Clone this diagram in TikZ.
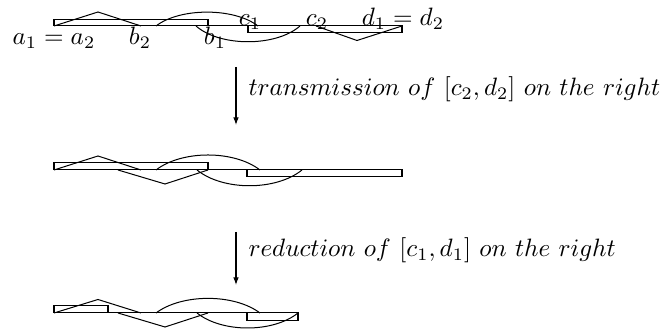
\documentclass[tikz,border=0pt]{standalone}
\usetikzlibrary{arrows.meta}
\begin{document}
\begin{tikzpicture}[x=0.398pt,y=-0.398pt,
  seg/.style={line width=0.4pt},
  step arrow/.style={-{Latex[length=3pt,width=2.2pt]}},
  lbl/.style={inner sep=0pt,anchor=base},
  steplbl/.style={inner sep=0pt,anchor=base west}]
\useasboundingbox (0,0) rectangle (660,331);
% ---------- diagram 1 ----------
\coordinate (A1) at (54,26);
\coordinate (E1) at (402,26);
\draw[seg] (A1) -- (E1);
\draw[seg] (54,19.5) rectangle (208,26);
\draw[seg] (248,26) rectangle (402,33);
\draw[seg] (54,26) -- (98,12) -- (141,26);
\draw[seg] (156,26) .. controls (180,7.5) and (234,7.5) .. (258,26);
\draw[seg] (196,26) .. controls (220,47) and (276,47) .. (300,26);
\draw[seg] (316,26) -- (357,40.5) -- (402,26);
\node[lbl] (la) at (54,45) {$a_1=a_2$};
\node[lbl] (lb2) at (140,45) {$b_2$};
\node[lbl] (lb1) at (215,45) {$b_1$};
\node[lbl] (lc1) at (250,25.5) {$c_1$};
\node[lbl] (lc2) at (317,25.5) {$c_2$};
\node[lbl] (ld) at (403,25.5) {$d_1=d_2$};
% ---------- arrow 1 ----------
\coordinate (s1) at (236,67);
\coordinate (t1) at (236,125);
\draw[step arrow] (s1) -- (t1);
\node[steplbl] (m1) at (248,96) {$transmission\ of\ [c_2,d_2]\ on\ the\ right$};
% ---------- diagram 2 ----------
\coordinate (A2) at (54,170);
\coordinate (E2) at (402,170);
\draw[seg] (A2) -- (E2);
\draw[seg] (54,163) rectangle (208,170);
\draw[seg] (247,170) rectangle (402,177);
\draw[seg] (54,170) -- (98,156) -- (141,170);
\draw[seg] (156,170) .. controls (182,150) and (234,150) .. (260,170);
\draw[seg] (118,170) -- (165,184) -- (208,170);
\draw[seg] (197,170) .. controls (223,191) and (276,191) .. (302,170);
% ---------- arrow 2 ----------
\coordinate (s2) at (236,232);
\coordinate (t2) at (236,285);
\draw[step arrow] (s2) -- (t2);
\node[steplbl] (m2) at (248,257) {$reduction\ of\ [c_1,d_1]\ on\ the\ right$};
% ---------- diagram 3 ----------
\coordinate (A3) at (54,313);
\coordinate (E3) at (298,313);
\draw[seg] (A3) -- (E3);
\draw[seg] (54,306) rectangle (108,313);
\draw[seg] (247,313) rectangle (298,320.5);
\draw[seg] (54,313) -- (98,299.5) -- (141,313);
\draw[seg] (156,313) .. controls (182,293.5) and (234,293.5) .. (260,313);
\draw[seg] (118,313) -- (165,327) -- (208,313);
\draw[seg] (197,313) .. controls (222,333) and (273,333) .. (298,313);
\end{tikzpicture}
\end{document}
